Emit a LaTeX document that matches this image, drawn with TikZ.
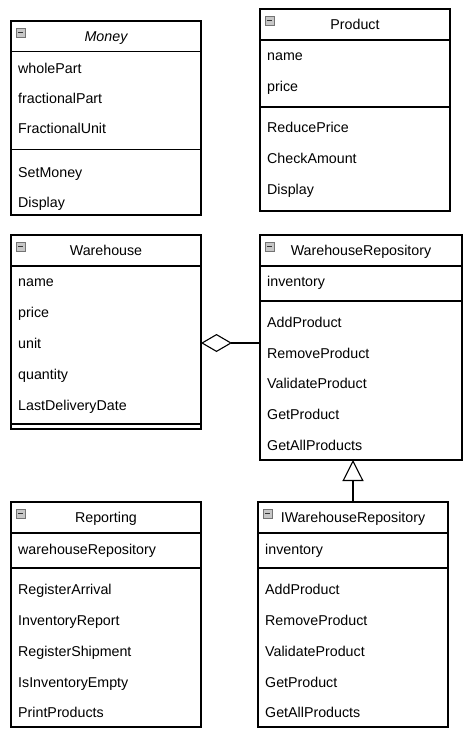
\documentclass[tikz,border=0pt]{standalone}
\usepackage{fontspec}
\setmainfont{Liberation Sans}
\usetikzlibrary{arrows.meta}
\begin{document}
\begin{tikzpicture}[x=1pt,y=-1pt,
  cls/.style={draw=black,line width=1.1pt,inner sep=0pt,outer sep=0pt},
  sepline/.style={line width=1.1pt},
  item/.style={anchor=base west,inner sep=0pt,font=\fontsize{14.25}{17}\selectfont},
  ttl/.style={anchor=base,inner sep=0pt,font=\fontsize{14.25}{17}\selectfont},
  conn/.style={line width=1.1pt,draw=black},
  collapse/.pic={
    \draw[draw=black!55,fill=black!22,line width=0.6pt] (0,0) rectangle (9,9);
    \draw[draw=black!80,line width=1.6pt] (1.8,4.5) -- (7.2,4.5);
  }]
\fill[white] (0,0) rectangle (467,733);
\useasboundingbox (0,0) rectangle (467,733);

% ---------- Money ----------
\node[cls,minimum width=190pt,minimum height=194pt] (money) at (106,118) {};
\draw[sepline] (11,51.5) -- (201,51.5);
\draw[sepline] (11,149.5) -- (201,149.5);
\pic at (16,28) {collapse};
\node[ttl,font=\fontsize{14.25}{17}\selectfont\itshape] (moneyT) at (106,41.5) {Money};
\node[item] (m1) at (18,74) {wholePart};
\node[item] (m2) at (18,104) {fractionalPart};
\node[item] (m3) at (18,134) {FractionalUnit};
\node[item] (m4) at (18,177) {SetMoney};
\node[item] (m5) at (18,207) {Display};

% ---------- Product ----------
\node[cls,minimum width=190pt,minimum height=202pt] (prod) at (355,110) {};
\draw[sepline] (260,40) -- (450,40);
\draw[sepline] (260,107) -- (450,107);
\pic at (265,16) {collapse};
\node[ttl] (prodT) at (355,30) {Product};
\node[item] (p1) at (267,61) {name};
\node[item] (p2) at (267,92) {price};
\node[item] (p3) at (267,132) {ReducePrice};
\node[item] (p4) at (267,163) {CheckAmount};
\node[item] (p5) at (267,194) {Display};

% ---------- Warehouse ----------
\node[cls,minimum width=190pt,minimum height=194pt] (wh) at (106,332) {};
\draw[sepline] (11,266) -- (201,266);
\draw[sepline] (11,424) -- (201,424);
\pic at (16,242) {collapse};
\node[ttl] (whT) at (106,255) {Warehouse};
\node[item] (w1) at (18,286) {name};
\node[item] (w2) at (18,317) {price};
\node[item] (w3) at (18,348) {unit};
\node[item] (w4) at (18,379) {quantity};
\node[item] (w5) at (18,410) {LastDeliveryDate};

% ---------- WarehouseRepository ----------
\node[cls,minimum width=202pt,minimum height=225pt] (repo) at (361,347.5) {};
\draw[sepline] (260,266) -- (462,266);
\draw[sepline] (260,301) -- (462,301);
\pic at (265,242) {collapse};
\node[ttl] (repoT) at (361,255) {WarehouseRepository};
\node[item] (r1) at (267,286) {inventory};
\node[item] (r2) at (267,327) {AddProduct};
\node[item] (r3) at (267,358) {RemoveProduct};
\node[item] (r4) at (267,388) {ValidateProduct};
\node[item] (r5) at (267,419) {GetProduct};
\node[item] (r6) at (267,450) {GetAllProducts};

% ---------- Reporting ----------
\node[cls,minimum width=190pt,minimum height=225pt] (rep) at (106,614.5) {};
\draw[sepline] (11,533) -- (201,533);
\draw[sepline] (11,568) -- (201,568);
\pic at (16,509) {collapse};
\node[ttl] (repT) at (106,522.5) {Reporting};
\node[item] (g1) at (18,554) {warehouseRepository};
\node[item] (g2) at (18,594) {RegisterArrival};
\node[item] (g3) at (18,625) {InventoryReport};
\node[item] (g4) at (18,656) {RegisterShipment};
\node[item] (g5) at (18,687) {IsInventoryEmpty};
\node[item] (g6) at (18,717) {PrintProducts};

% ---------- IWarehouseRepository ----------
\node[cls,minimum width=190pt,minimum height=225pt] (iwr) at (353,614.5) {};
\draw[sepline] (258,533) -- (448,533);
\draw[sepline] (258,568) -- (448,568);
\pic at (263,509) {collapse};
\node[ttl] (iwrT) at (353,522.5) {IWarehouseRepository};
\node[item] (i1) at (265,554) {inventory};
\node[item] (i2) at (265,594) {AddProduct};
\node[item] (i3) at (265,625) {RemoveProduct};
\node[item] (i4) at (265,656) {ValidateProduct};
\node[item] (i5) at (265,687) {GetProduct};
\node[item] (i6) at (265,717) {GetAllProducts};

% ---------- connectors ----------
\coordinate (aggy) at (0,343);
\draw[conn,{Diamond[open,length=31pt,width=18pt]}-] (wh.east |- aggy) -- (repo.west |- aggy);
\draw[conn,-{Triangle[open,length=21pt,width=21pt]}] (iwr.north) -- (iwr.north |- repo.south);
\end{tikzpicture}
\end{document}
